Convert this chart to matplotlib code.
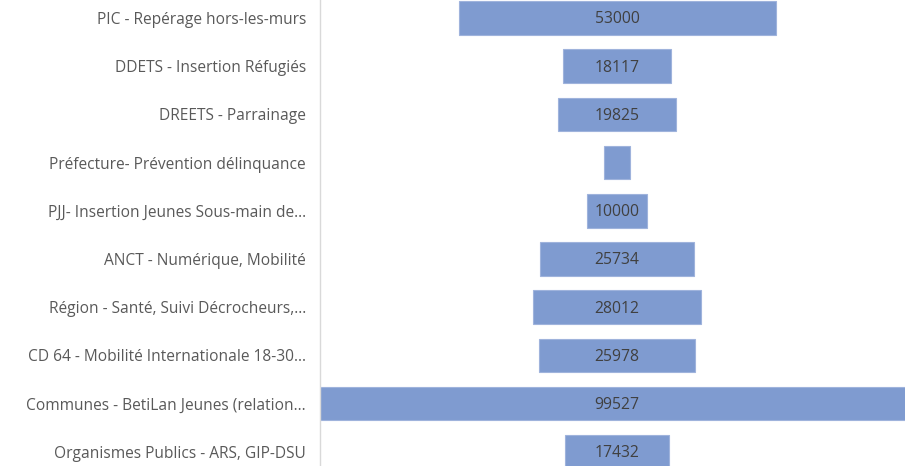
import matplotlib
matplotlib.use("Agg")
import matplotlib.pyplot as plt

categories = [
    "PIC - Repérage hors-les-murs",
    "DDETS - Insertion Réfugiés",
    "DREETS - Parrainage",
    "Préfecture- Prévention délinquance",
    "PJJ- Insertion Jeunes Sous-main de...",
    "ANCT - Numérique, Mobilité",
    "Région - Santé, Suivi Décrocheurs,...",
    "CD 64 - Mobilité Internationale 18-30...",
    "Communes - BetiLan Jeunes (relation...",
    "Organismes Publics - ARS, GIP-DSU",
]
values = [53000, 18117, 19825, 4200, 10000, 25734, 28012, 25978, 99527, 17432]
show_label = [True, True, True, False, True, True, True, True, True, True]

plt.rcParams['font.family'] = ['Open Sans', 'DejaVu Sans']

W, H = 905, 466
fig = plt.figure(figsize=(W / 100, H / 100), dpi=100)
ax_left_px = 320
ax = fig.add_axes([ax_left_px / W, 0, 1 - ax_left_px / W, 1])

# pixel mapping
center_px = 617
scale = 317 / 53000  # px per unit
ax.set_xlim(-(center_px - ax_left_px) / scale, (W - center_px) / scale)
y0_px, step_px = 18, 48.2
ax.set_ylim((H - y0_px) / step_px, -y0_px / step_px)

ypos = list(range(len(categories)))
ax.barh(ypos, values, left=[-v / 2 for v in values], height=0.7,
        color="#7f9bd0", edgecolor="#9fb3dc", linewidth=0.8)
for y, v, s in zip(ypos, values, show_label):
    if s:
        ax.text(0, y + 0.03, str(v), ha="center", va="center", fontsize=11.3, color="#404040")

ax.set_yticks(ypos)
ax.set_yticklabels(categories, fontsize=11.2, color="#595959")
ax.tick_params(axis="y", length=0, pad=10)
ax.set_xticks([])
for side in ["top", "right", "bottom"]:
    ax.spines[side].set_visible(False)
ax.spines["left"].set_color("#d9d9d9")
ax.spines["left"].set_linewidth(1)
ax.spines["left"].set_zorder(5)

fig.savefig("out.png", dpi=100)
